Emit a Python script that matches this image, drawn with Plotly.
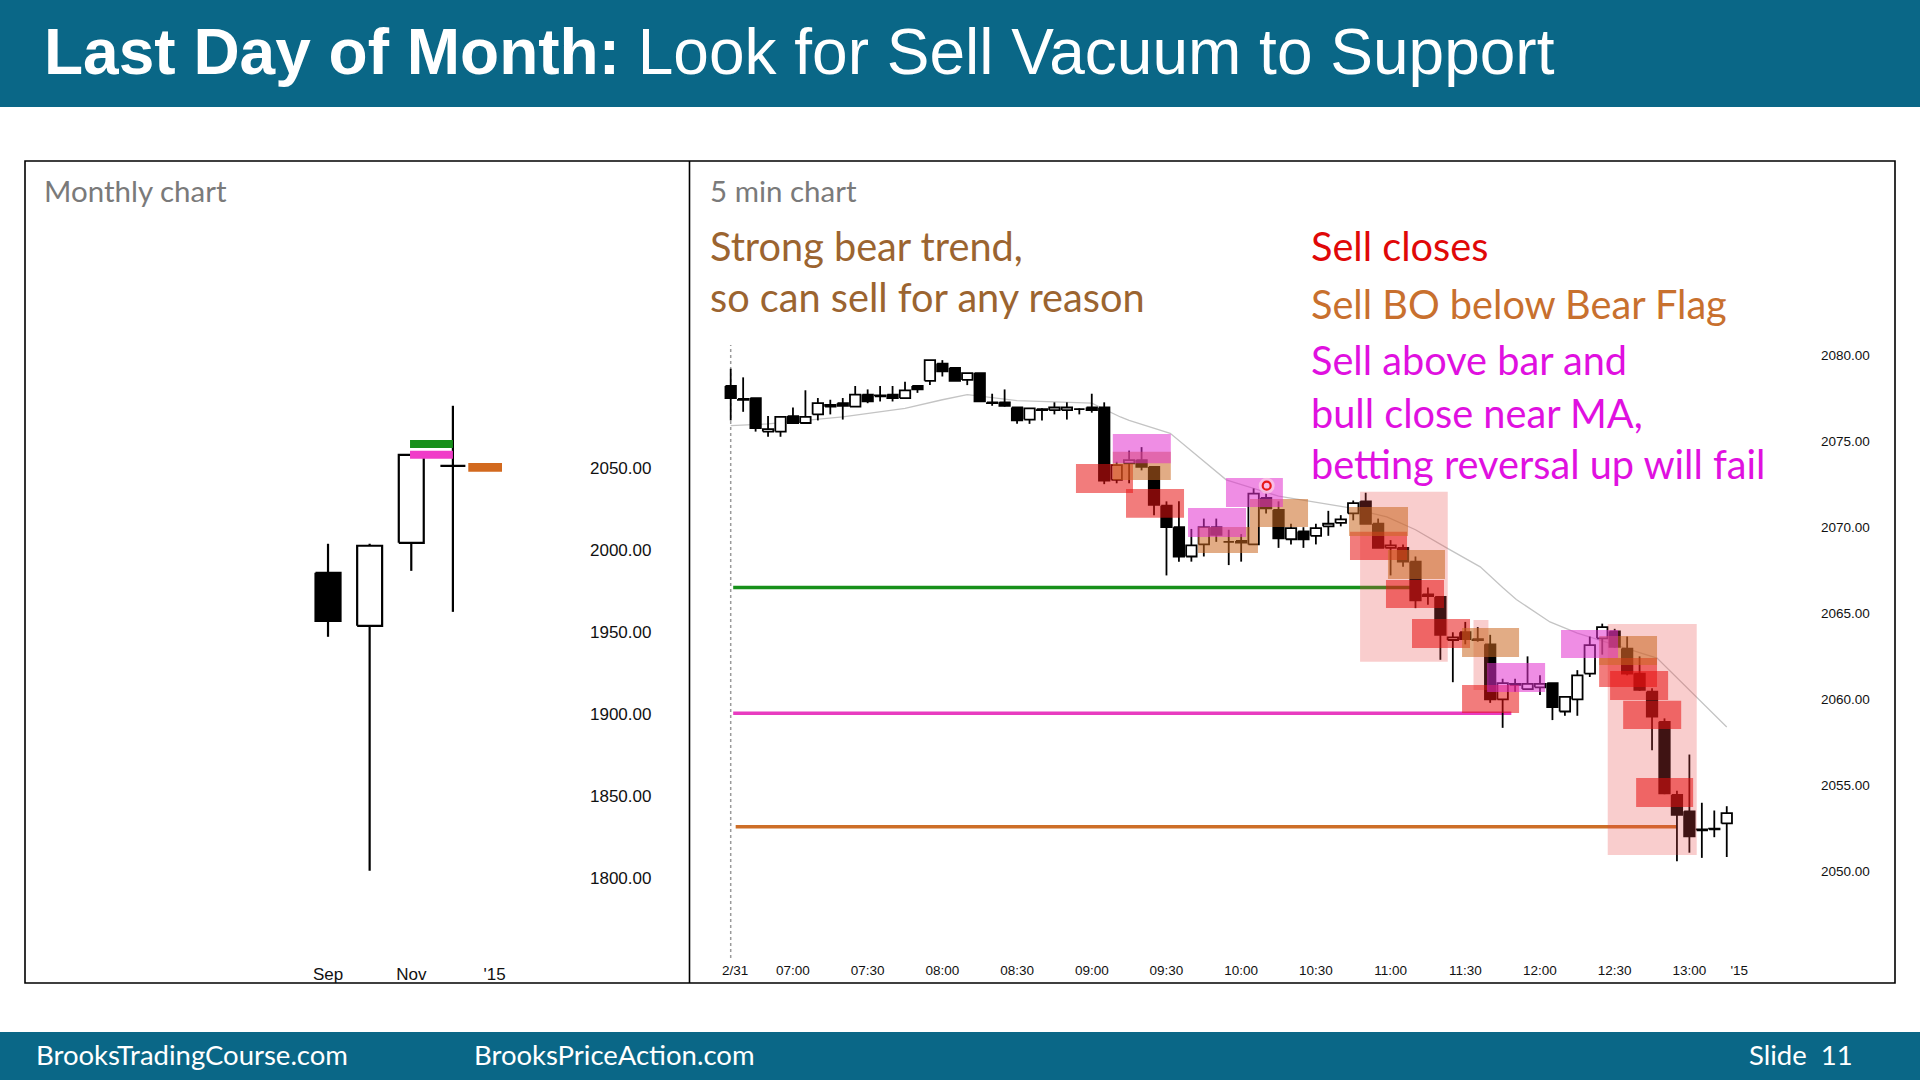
import plotly.graph_objects as go

W, H = 1920, 1080

# ---------------- Monthly chart data ----------------
m_pos = [0, 1, 2, 3]                      # Sep, Oct, Nov, Dec
m_open = [1986.0, 1953.7, 2004.3, 2051.2]
m_high = [2003.7, 2003.7, 2058.0, 2087.8]
m_low = [1947.0, 1804.4, 1987.2, 1962.2]
m_close = [1956.7, 2002.5, 2057.9, 2051.0]
m_tick_text = ["Sep", "Nov", "'15"]
m_tick_pos = [0, 2, 4]
m_price_ticks = [1800, 1850, 1900, 1950, 2000, 2050]

band_color = ["#17901A", "#F03CC8", "#D2691E"]
band_x0 = [1.97, 1.97, 3.37]
band_x1 = [3.0, 3.0, 4.18]
band_y0 = [2062.0, 2055.5, 2047.6]
band_y1 = [2067.0, 2060.4, 2053.0]

# ---------------- 5 min chart data (bar 0 = 06:35) ----------------
o5 = [2078.2, 2077.45, 2077.5, 2075.55, 2075.55, 2076.45, 2076.05, 2076.55, 2077.0, 2077.2,
      2077.0, 2077.7, 2077.6, 2077.7, 2077.5, 2078.2, 2078.5, 2079.5, 2079.25, 2078.55,
      2078.95, 2077.25, 2077.25, 2076.95, 2076.25, 2076.85, 2076.8, 2076.8, 2076.85, 2076.95,
      2076.95, 2072.75, 2073.7, 2073.9, 2073.5, 2071.25, 2070.0, 2068.3, 2069.0, 2070.0,
      2069.15, 2069.2, 2069.0, 2071.7, 2071.0, 2069.3, 2069.75, 2069.5, 2070.05, 2070.25,
      2070.8, 2071.5, 2070.2, 2068.8, 2068.8, 2068.0, 2066.1, 2065.95, 2063.45, 2063.9,
      2063.5, 2063.2, 2060.0, 2060.85, 2060.6, 2060.7, 2060.95, 2059.3, 2060.0, 2061.5,
      2063.55, 2063.95, 2062.95, 2061.5, 2060.45, 2058.7, 2054.45, 2053.5, 2052.4, 2052.45,
      2052.8]
h5 = [2079.2, 2078.7, 2077.5, 2076.45, 2076.4, 2076.95, 2077.95, 2077.5, 2077.4, 2077.5,
      2078.2, 2078.0, 2078.2, 2078.2, 2078.45, 2078.2, 2079.7, 2079.7, 2079.25, 2078.95,
      2078.95, 2077.75, 2078.0, 2076.95, 2076.9, 2076.9, 2077.25, 2077.25, 2076.9, 2077.75,
      2077.25, 2073.8, 2074.45, 2074.65, 2073.5, 2071.5, 2071.5, 2069.9, 2070.5, 2070.5,
      2069.85, 2069.6, 2072.25, 2071.95, 2071.5, 2070.2, 2070.0, 2070.2, 2070.95, 2070.7,
      2071.55, 2072.0, 2070.5, 2069.25, 2069.0, 2068.3, 2066.5, 2065.95, 2063.9, 2064.5,
      2064.2, 2063.75, 2061.2, 2061.2, 2062.5, 2061.4, 2060.95, 2060.15, 2061.7, 2063.65,
      2064.4, 2064.1, 2063.65, 2062.5, 2060.65, 2058.9, 2054.7, 2056.8, 2054.0, 2053.55,
      2053.8]
l5 = [2076.2, 2076.7, 2075.55, 2075.25, 2075.25, 2076.05, 2076.0, 2076.2, 2076.55, 2076.25,
      2077.0, 2077.2, 2077.3, 2077.3, 2077.5, 2077.8, 2078.25, 2078.75, 2078.5, 2078.25,
      2077.3, 2077.05, 2077.0, 2076.0, 2076.0, 2076.2, 2076.55, 2076.25, 2076.55, 2076.65,
      2072.5, 2072.55, 2072.55, 2073.3, 2070.7, 2067.2, 2068.0, 2068.0, 2068.3, 2069.15,
      2067.8, 2068.0, 2069.0, 2070.8, 2068.8, 2069.0, 2068.8, 2069.0, 2069.5, 2070.05,
      2070.4, 2070.2, 2068.8, 2067.2, 2067.7, 2065.3, 2065.5, 2062.3, 2061.0, 2063.2,
      2063.35, 2059.8, 2058.35, 2060.45, 2060.6, 2060.25, 2058.8, 2059.05, 2059.05, 2061.3,
      2062.6, 2063.0, 2061.4, 2060.5, 2057.05, 2054.5, 2050.6, 2051.1, 2050.8, 2052.0,
      2050.85]
c5 = [2077.5, 2077.4, 2075.75, 2075.7, 2076.4, 2076.05, 2076.4, 2077.2, 2077.1, 2077.05,
      2077.7, 2077.3, 2077.65, 2077.5, 2077.95, 2078.0, 2079.7, 2079.05, 2078.5, 2078.95,
      2077.3, 2077.2, 2077.05, 2076.2, 2076.9, 2076.8, 2076.95, 2076.95, 2076.85, 2076.8,
      2072.7, 2073.6, 2073.9, 2073.5, 2071.3, 2070.0, 2068.3, 2068.95, 2070.0, 2069.55,
      2069.15, 2069.1, 2071.95, 2071.1, 2069.35, 2069.95, 2069.3, 2069.95, 2070.2, 2070.45,
      2071.4, 2070.2, 2068.8, 2068.95, 2068.0, 2065.75, 2066.0, 2063.75, 2063.6, 2063.5,
      2063.45, 2060.0, 2060.95, 2060.9, 2060.9, 2060.9, 2059.55, 2060.15, 2061.4, 2063.15,
      2064.2, 2063.05, 2061.5, 2060.55, 2059.0, 2054.55, 2053.3, 2052.05, 2052.45, 2052.5,
      2053.4]

ma_bar = [0, 3, 9, 14, 17, 19, 23, 29, 31.3, 32, 35.3, 39.8, 44, 49.5, 52.7, 55, 57.5,
          60.2, 62, 63.1, 65.8, 68, 74.4, 80]
ma_val = [2075.9, 2076.0, 2076.4, 2076.9, 2077.4, 2077.7, 2077.35, 2077.2, 2076.4, 2076.2,
          2075.45, 2072.75, 2071.8, 2071.15, 2070.6, 2069.85, 2068.8, 2067.7, 2066.5, 2065.8,
          2064.5, 2063.85, 2062.4, 2058.4]

t_tick_text = ["2/31", "07:00", "07:30", "08:00", "08:30", "09:00", "09:30", "10:00",
               "10:30", "11:00", "11:30", "12:00", "12:30", "13:00", "'15"]
t_tick_pos = [0.35, 5, 11, 17, 23, 29, 35, 41, 47, 53, 59, 65, 71, 77, 81]
p_ticks = [2050, 2055, 2060, 2065, 2070, 2075, 2080]

# support lines (monthly levels) on the 5 min chart
lvl_color = ["#17901A", "#E83CC0", "#CD6E28"]
lvl_price = [2066.5, 2059.2, 2052.6]
lvl_x0 = [0.2, 0.2, 0.4]
lvl_x1 = [55.4, 62.7, 76.0]

# annotation boxes: kind, bar from, bar to, price low, price high
box_kind = ["big", "big", "big",
            "red", "red", "red", "red", "red", "red", "red", "red", "red", "red",
            "tan", "tan", "tan", "tan", "tan", "tan", "tan",
            "pink", "pink", "pink", "pink", "pink"]
box_x0 = [50.55, 59.66, 70.44,
          27.73, 31.75, 49.74, 52.63, 54.72, 58.74, 69.75, 70.63, 71.68, 72.72,
          30.69, 37.53, 41.71, 49.66, 52.79, 58.74, 69.75,
          30.69, 36.73, 39.78, 60.75, 66.69]
box_x1 = [57.59, 60.86, 77.59,
          32.31, 36.41, 54.32, 57.29, 59.38, 63.32, 74.40, 75.29, 76.34, 77.30,
          35.35, 42.35, 46.37, 54.40, 57.37, 63.32, 74.40,
          35.35, 41.39, 44.35, 65.41, 71.27]
box_y0 = [2062.19, 2060.55, 2050.96,
          2071.99, 2070.55, 2068.10, 2065.31, 2062.98, 2059.21, 2060.72, 2059.97, 2058.28, 2053.75,
          2072.74, 2068.50, 2070.01, 2069.49, 2066.99, 2062.46, 2062.00,
          2073.71, 2069.43, 2071.17, 2060.43, 2062.40]
box_y1 = [2072.06, 2064.61, 2064.38,
          2073.67, 2072.22, 2069.74, 2066.93, 2064.67, 2060.84, 2062.40, 2061.65, 2059.92, 2055.44,
          2074.38, 2070.01, 2071.64, 2071.17, 2068.68, 2064.15, 2063.68,
          2075.41, 2071.12, 2072.86, 2062.11, 2064.03]
box_style = {"big": ("rgb(232,70,70)", 0.27), "red": ("rgb(232,16,16)", 0.55),
             "tan": ("rgb(202,104,32)", 0.55), "pink": ("rgb(226,48,206)", 0.55)}

signal_bar = [43.05]
signal_price = [2072.41]


def X(p):
    return p / W


def Y(p):
    return 1 - p / H


def candles(xs, o, h, l, c, hw, xa, ya, lw):
    wx, wy = [], []
    for x, hi, lo in zip(xs, h, l):
        wx += [x, x, None]
        wy += [lo, hi, None]
    out = [go.Scatter(x=wx, y=wy, mode="lines", line=dict(color="black", width=lw),
                      xaxis=xa, yaxis=ya, hoverinfo="skip", showlegend=False)]
    for up in (True, False):
        bx, by = [], []
        for x, oo, cc in zip(xs, o, c):
            if (cc >= oo) != up:
                continue
            bx += [x - hw, x + hw, x + hw, x - hw, x - hw, None]
            by += [oo, oo, cc, cc, oo, None]
        out.append(go.Scatter(x=bx, y=by, mode="lines", fill="toself",
                              fillcolor="white" if up else "black",
                              line=dict(color="black", width=lw),
                              xaxis=xa, yaxis=ya, hoverinfo="skip", showlegend=False))
    return out


fig = go.Figure()

# ---- monthly ----
for t in candles(m_pos, m_open, m_high, m_low, m_close, 0.3, "x", "y", 2.2):
    fig.add_trace(t)

# ---- 5 min ----
fig.add_trace(go.Scatter(x=ma_bar, y=ma_val, mode="lines", line=dict(color="#C4C4C4", width=1.3),
                         xaxis="x2", yaxis="y2", hoverinfo="skip", showlegend=False))
for col, pr, a, b in zip(lvl_color, lvl_price, lvl_x0, lvl_x1):
    fig.add_trace(go.Scatter(x=[a, b], y=[pr, pr], mode="lines", line=dict(color=col, width=3.5),
                             xaxis="x2", yaxis="y2", hoverinfo="skip", showlegend=False))
bars = list(range(len(o5)))
for t in candles(bars, o5, h5, l5, c5, 0.42, "x2", "y2", 1.8):
    fig.add_trace(t)

shapes = []
# header / footer
shapes.append(dict(type="rect", xref="paper", yref="paper", x0=0, x1=1, y0=Y(107), y1=1,
                   fillcolor="#0A6787", line=dict(width=0), layer="below"))
shapes.append(dict(type="rect", xref="paper", yref="paper", x0=0, x1=1, y0=0, y1=Y(1032),
                   fillcolor="#0A6787", line=dict(width=0), layer="below"))
# panel frames
shapes.append(dict(type="rect", xref="paper", yref="paper", x0=X(25), x1=X(1895), y0=Y(983), y1=Y(161),
                   line=dict(color="black", width=1.6), layer="below"))
shapes.append(dict(type="line", xref="paper", yref="paper", x0=X(689.5), x1=X(689.5), y0=Y(983), y1=Y(161),
                   line=dict(color="black", width=1.6), layer="below"))
# session start dotted line
shapes.append(dict(type="line", xref="x2", yref="paper", x0=0, x1=0, y0=Y(958), y1=Y(345),
                   line=dict(color="#9A9A9A", width=1.5, dash="dot"), layer="below"))
# monthly bands
for col, a, b, lo, hi in zip(band_color, band_x0, band_x1, band_y0, band_y1):
    shapes.append(dict(type="rect", xref="x", yref="y", x0=a, x1=b, y0=lo, y1=hi,
                       fillcolor=col, line=dict(width=0), layer="above"))
# 5 min boxes
for k, a, b, lo, hi in zip(box_kind, box_x0, box_x1, box_y0, box_y1):
    col, op = box_style[k]
    shapes.append(dict(type="rect", xref="x2", yref="y2", x0=a, x1=b, y0=lo, y1=hi,
                       fillcolor=col, opacity=op, line=dict(width=0), layer="above"))
# signal marker
for sb, sp in zip(signal_bar, signal_price):
    shapes.append(dict(type="circle", xref="x2", yref="y2", xsizemode="pixel", ysizemode="pixel",
                       xanchor=sb, yanchor=sp, x0=-8, x1=8, y0=-8, y1=8,
                       fillcolor="rgba(255,220,230,0.6)", line=dict(width=0), layer="above"))
    shapes.append(dict(type="circle", xref="x2", yref="y2", xsizemode="pixel", ysizemode="pixel",
                       xanchor=sb, yanchor=sp, x0=-4, x1=4, y0=-4, y1=4,
                       fillcolor="rgba(0,0,0,0)", line=dict(color="#E81818", width=2.2), layer="above"))

annos = []


def txt(s, x, y, size, color, family="Lato", xanchor="left"):
    annos.append(dict(text=s, x=X(x), y=Y(y), xref="paper", yref="paper", xanchor=xanchor,
                      yanchor="middle", showarrow=False,
                      font=dict(family=family, size=size, color=color)))


txt("<b>Last Day of Month:</b> Look for Sell Vacuum to Support", 42, 52, 64, "white",
    family="Liberation Sans, Arial")
txt("Monthly chart", 42, 190, 29.5, "#7A7A7A")
txt("5 min chart", 708, 190, 29.5, "#7A7A7A")
txt("Strong bear trend,", 708, 245, 39.7, "#9B6430")
txt("so can sell for any reason", 708, 296, 39.7, "#9B6430")
txt("Sell closes", 1309, 245, 39.7, "#E00808")
txt("Sell BO below Bear Flag", 1309, 304, 39.7, "#C8702E")
txt("Sell above bar and", 1309, 360, 39.7, "#E010E0")
txt("bull close near MA,", 1309, 412, 39.7, "#E010E0")
txt("betting reversal up will fail", 1309, 463, 39.7, "#E010E0")
txt("BrooksTradingCourse.com", 34, 1054, 27.5, "white")
txt("BrooksPriceAction.com", 472, 1054, 27.5, "white")
txt("Slide  11", 1855, 1054, 27.5, "white", xanchor="right")

axis_common = dict(showgrid=False, zeroline=False, showline=False, ticks="")
tickfont_m = dict(family="Liberation Sans, Arial", size=17, color="#111111")
tickfont_5 = dict(family="Liberation Sans, Arial", size=13.5, color="#111111")

fig.update_layout(
    width=W, height=H, margin=dict(l=0, r=0, t=0, b=0),
    paper_bgcolor="white", plot_bgcolor="rgba(0,0,0,0)", showlegend=False,
    xaxis=dict(domain=[X(25), X(589)], range=[-7.28, 6.27], anchor="y",
               tickvals=m_tick_pos, ticktext=m_tick_text, tickfont=tickfont_m, **axis_common),
    yaxis=dict(domain=[Y(962), Y(170)], range=[1748.8, 2231.5], anchor="x", side="right",
               tickvals=m_price_ticks, ticktext=[f"{v:.2f}" for v in m_price_ticks],
               tickfont=tickfont_m, **axis_common),
    xaxis2=dict(domain=[X(700), X(1820)], range=[-2.466, 87.49], anchor="y2",
                tickvals=t_tick_pos, ticktext=t_tick_text, tickfont=tickfont_5, **axis_common),
    yaxis2=dict(domain=[Y(960), Y(330)], range=[2044.87, 2081.45], anchor="x2", side="right",
                tickvals=p_ticks, ticktext=[f"{v:.2f}" for v in p_ticks],
                tickfont=tickfont_5, **axis_common),
    shapes=shapes, annotations=annos,
)

fig.write_html("out.html")
